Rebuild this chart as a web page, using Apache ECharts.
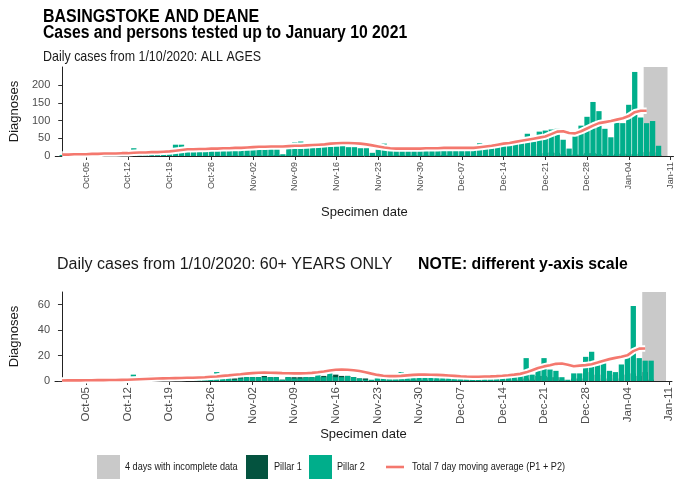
<!DOCTYPE html>
<html><head><meta charset="utf-8">
<script src="https://cdn.jsdelivr.net/npm/echarts@6/dist/echarts.min.js"></script>
<style>html,body{margin:0;padding:0;background:#fff}#c{width:675px;height:483px}</style>
</head><body><div id="c"></div>
<script>
// ---- categories: specimen dates 1 Oct 2020 .. 10 Jan 2021 (index = day offset)
const nDays = 102;
const dates = [];
for (let i = 0; i < nDays; i++) { const t = new Date(Date.UTC(2020, 9, 1 + i)); dates.push(t.toISOString().slice(0, 10)); }

// ---- tick labels
const tickDays   = [4, 11, 18, 25, 32, 39, 46, 53, 60, 67, 74, 81, 88, 95, 102];
const tickLabels = ['Oct-05','Oct-12','Oct-19','Oct-26','Nov-02','Nov-09','Nov-16','Nov-23','Nov-30','Dec-07','Dec-14','Dec-21','Dec-28','Jan-04','Jan-11'];
const yTicksAll = [0, 50, 100, 150, 200];
const yTicksOld = [0, 20, 40, 60];
const incomplete = ['2021-01-07', '2021-01-10'];

// ---- ALL AGES
const p1All = [0,0,0,0,0,0,0,1,0,0,0, 0,0,1,0,0,0,1,0, 0,1,0,1,0,1,1,0,1,1,2,1, 2,1,2,1,2,3,1,
  2,3,2,2,3,2,4,8,6,2,3,2,3,2,
  1,2,2,1,2,2,1,2,1,2,1,2,3,2,1,2,1,2,2,1,2,1,2,3,
  3,4,3,4,5,8,10,9,5,2,4,4,8,8,6,3,3,6,7,5,6,11,12,10,3,0];
const p2All = [3,5,6,4,7,6,8,8,7,8,10, 9,22,9,11,12,10,12,12, 32,32,16,16,18,18,16,18,29,19,19,21, 23,25,23,25,25,23,5,
  25,39,41,26,26,28,28,26,27,29,25,25,22,22,
  9,18,35,20,20,21,23,19,22,20,20,21,21,20,19,20,20,21,36,23,24,37,28,31,
  37,44,63,41,69,72,75,77,46,21,56,86,111,153,127,77,53,94,93,145,238,109,93,99,29,0];
const avgAll = [4,4,5,5,5,6,6,7,7,7,8, 8,9,10,10,11,11,12,13, 15,17,19,19,20,20,21,21,22,22,23,23, 24,25,26,26,27,27,27,
  28,29,29,30,31,32,33,35,36,37,37,36,35,33,
  30,27,24,22,21,21,21,21,21,22,22,22,23,23,23,23,23,23,25,27,29,32,35,37,
  40,43,46,49,52,55,62,69,70,65,64,70,78,86,93,96,99,103,107,113,124,128,128];

// ---- 60+ YEARS
const p1Old = [0,0,0,0,0,0,0,0,0,1,0, 0,0,0,0,0,0,1,0, 0,0,1,1,0,1,1,0,1,2,2,3, 3,3,3,4,3,3,1,
  3,3,3,3,3,3,4,4,5,4,4,3,2,2,
  0,1,1,1,1,1,1,1,1,1,0,1,1,1,1,1,1,1,1,1,1,1,1,1,
  1,1,2,1,4,4,3,3,1,0,2,2,7,5,5,2,2,5,2,5,6,4,7,1,0,0];
const p2Old = [0,1,0,1,1,0,1,0,1,1,1, 1,5,1,2,4,1,1,2, 2,3,1,2,3,1,3,7,5,2,1,2, 3,3,3,3,3,3,1,
  3,2,2,3,3,8,3,9,3,3,4,3,2,1,
  1,2,2,3,2,7,3,4,4,3,5,5,3,4,3,2,2,2,4,2,3,2,3,4,
  3,4,18,5,12,18,9,8,3,1,6,6,19,23,15,14,8,7,13,21,59,18,16,16,0,0];
const avgOld = [0.4,0.5,0.5,0.5,0.6,0.6,0.7,0.7,0.8,0.8,0.9, 1,1.2,1.4,1.6,1.8,2,2.1,2.2,
  2.3,2.4,2.5,2.6,2.8,3,3.3,3.6,4,4.4,4.9,5.3, 5.8,6.2,6.5,6.6,6.5,6.4,6.2,
  6.1,6,6,6.1,6.4,6.9,7.5,8.2,8.8,9,8.9,8.5,7.8,6.9,
  5.8,4.8,4.1,3.8,3.8,4,4.4,4.8,5,5,4.9,4.8,4.6,4.3,4,3.7,3.5,3.4,3.4,3.5,3.6,3.8,4.1,4.5,
  5,5.6,6.8,8.5,10.2,11.5,12.4,13.5,13.8,12.8,11.6,12.1,12.5,13.2,14.5,16,17.2,18.2,19,20.2,23.5,25.5,25.6];

// ---- styling
const C_P1 = '#04533F', C_P2 = '#00AE8B', C_GREY = '#C9C9C9', C_LINE = '#F4786E';
const REG = '"Liberation Sans", Arial, sans-serif';
const dayOf = s => dates.indexOf(s);
const pairs = arr => arr.map((v, i) => [i, v]);
const labelFor = v => { const k = tickDays.indexOf(Math.round(v)); return k >= 0 ? tickLabels[k] : ''; };

function xAxis(grid, fs, gap) {
  return {
    type: 'value', gridIndex: grid, min: -1.17, max: 102.5,
    name: 'Specimen date', nameLocation: 'middle', nameGap: gap,
    nameTextStyle: { fontFamily: REG, fontSize: 13, color: '#1a1a1a' },
    axisLine: { show: true, onZero: false, lineStyle: { color: '#222', width: 1 } },
    axisTick: { show: true, customValues: tickDays, length: 4, lineStyle: { color: '#333' } },
    axisLabel: { customValues: tickDays, rotate: 90, formatter: labelFor, fontFamily: REG, fontSize: fs, color: '#4d4d4d', margin: 6 },
    splitLine: { show: false }
  };
}
function yAxis(grid, max, ticks, fs) {
  return {
    type: 'value', gridIndex: grid, min: 0, max: max,
    name: 'Diagnoses', nameLocation: 'middle', nameGap: 34,
    nameTextStyle: { fontFamily: REG, fontSize: 13, color: '#1a1a1a' },
    axisLine: { show: true, lineStyle: { color: '#222', width: 1 } },
    axisTick: { show: true, customValues: ticks, length: 4, lineStyle: { color: '#333' } },
    axisLabel: { customValues: ticks, fontFamily: REG, fontSize: fs, color: '#4d4d4d', margin: 5 },
    splitLine: { show: false }
  };
}
function greyBand(params, api) {
  const cs = params.coordSys;
  const a = api.coord([api.value(0) - 0.5, 0]);
  const b = api.coord([api.value(1) + 0.5, 0]);
  return { type: 'rect', shape: { x: a[0], y: cs.y, width: b[0] - a[0], height: cs.height }, style: { fill: C_GREY } };
}
function panel(grid, p1, p2, avg, stack) {
  return [
    { type: 'custom', name: '4 days with incomplete data', xAxisIndex: grid, yAxisIndex: grid, z: 1, silent: true,
      renderItem: greyBand, encode: { x: [0, 1] }, data: [[dayOf(incomplete[0]), dayOf(incomplete[1])]] },
    { type: 'bar', name: 'Pillar 1', xAxisIndex: grid, yAxisIndex: grid, stack: stack, data: pairs(p1), barWidth: 5.3, itemStyle: { color: C_P1 }, z: 2 },
    { type: 'bar', name: 'Pillar 2', xAxisIndex: grid, yAxisIndex: grid, stack: stack, data: pairs(p2), barWidth: 5.3, itemStyle: { color: C_P2 }, z: 2 },
    { type: 'line', name: 'halo', xAxisIndex: grid, yAxisIndex: grid, data: pairs(avg), showSymbol: false, z: 3, silent: true,
      lineStyle: { color: '#ffffff', width: 6.5 } },
    { type: 'line', name: 'Total 7 day moving average (P1 + P2)', xAxisIndex: grid, yAxisIndex: grid, data: pairs(avg), showSymbol: false, z: 4,
      lineStyle: { color: C_LINE, width: 2.6 } }
  ];
}
function txt(x, y, text, font, sx, fill) {
  return { type: 'text', x: x, y: y, scaleX: sx, style: { text: text, font: font, fill: fill || '#1a1a1a', textVerticalAlign: 'top' } };
}

const chart = echarts.init(document.getElementById('c'), null, { renderer: 'canvas' });
chart.setOption({
  animation: false,
  grid: [
    { left: 55, top: 67, width: 620, height: 89 },
    { left: 55, top: 292, width: 620, height: 89 }
  ],
  xAxis: [xAxis(0, 9, 50), xAxis(1, 11.5, 47)],
  yAxis: [yAxis(0, 252, yTicksAll, 11), yAxis(1, 70, yTicksOld, 11)],
  series: [].concat(panel(0, p1All, p2All, avgAll, 'all'), panel(1, p1Old, p2Old, avgOld, 'old')),
  graphic: [
    txt(43, 7, 'BASINGSTOKE AND DEANE', 'bold 19px ' + REG, 0.84, '#000'),
    txt(43, 24, 'Cases and persons tested up to January 10 2021', 'bold 17.5px ' + REG, 0.9, '#000'),
    txt(43, 49, 'Daily cases from 1/10/2020: ALL AGES', '15px ' + REG, 0.83),
    txt(57, 257, 'Daily cases from 1/10/2020: 60+ YEARS ONLY', '16px ' + REG, 1),
    txt(418, 257, 'NOTE: different y-axis scale', 'bold 15.8px ' + REG, 1, '#000'),
    { type: 'rect', shape: { x: 97, y: 455, width: 23, height: 24 }, style: { fill: C_GREY } },
    txt(125, 461, '4 days with incomplete data', '11px ' + REG, 0.83),
    { type: 'rect', shape: { x: 246, y: 455, width: 22, height: 24 }, style: { fill: C_P1 } },
    txt(274, 461, 'Pillar 1', '11px ' + REG, 0.83),
    { type: 'rect', shape: { x: 309, y: 455, width: 23, height: 24 }, style: { fill: C_P2 } },
    txt(337, 461, 'Pillar 2', '11px ' + REG, 0.83),
    { type: 'line', shape: { x1: 386, y1: 467, x2: 404, y2: 467 }, style: { stroke: C_LINE, lineWidth: 2.6 } },
    txt(412, 461, 'Total 7 day moving average (P1 + P2)', '11px ' + REG, 0.83)
  ]
});
</script></body></html>
